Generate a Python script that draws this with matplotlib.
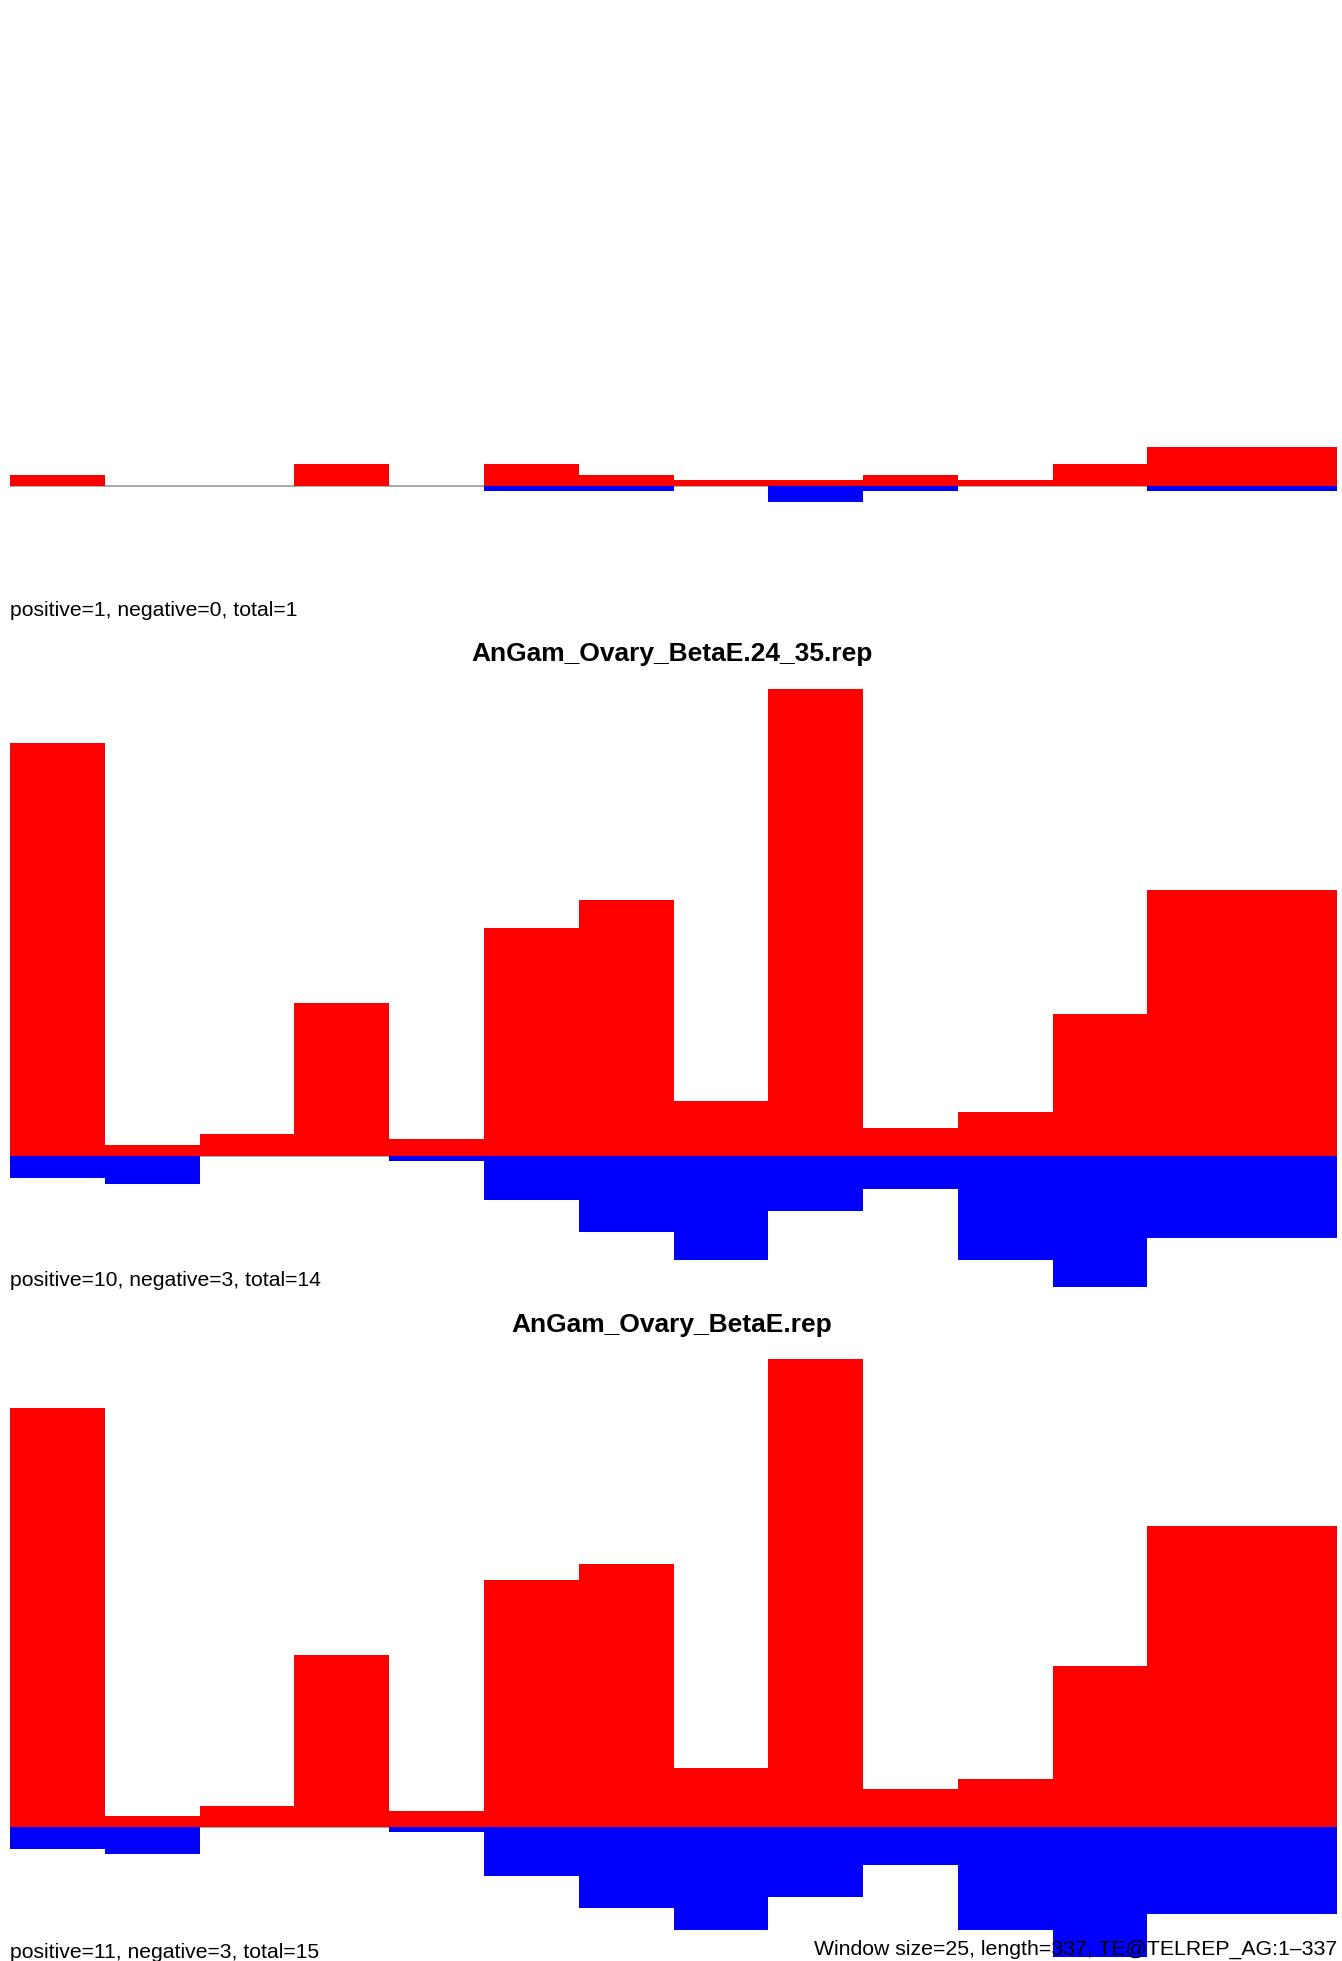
import matplotlib
matplotlib.use("Agg")
import matplotlib.pyplot as plt
import numpy as np

# window counts per 25-bp bin (13 full windows + the tail window)
bins = np.arange(14)

titles = ["", "AnGam_Ovary_BetaE.24_35.rep", "AnGam_Ovary_BetaE.rep"]
stats = ["positive=1, negative=0, total=1",
         "positive=10, negative=3, total=14",
         "positive=11, negative=3, total=15"]

pos1 = [2, 0, 0, 4, 0, 4, 2, 1, 1, 2, 1, 4, 7, 7]
neg1 = [0, 0, 0, 0, 0, 1, 1, 0, 3, 1, 0, 0, 1, 1]

pos2 = [75.8, 2.0, 4.0, 28.1, 3.1, 41.8, 47.0, 10.1, 85.7, 5.1, 8.1, 26.1, 48.8, 48.8]
neg2 = [4.0, 5.1, 0, 0, 1.0, 8.0, 13.9, 19.1, 10.1, 6.1, 19.1, 24.0, 15.0, 15.0]

pos3 = [76.9, 2.0, 3.9, 31.6, 2.9, 45.3, 48.3, 10.8, 85.9, 7.0, 8.8, 29.5, 55.2, 55.2]
neg3 = [4.0, 5.0, 0, 0, 1.0, 9.0, 14.9, 18.9, 12.8, 7.0, 18.9, 23.9, 16.0, 16.0]

footer = "Window size=25, length=337, TE@TELREP_AG:1\u2013337"

W, H = 1342, 1961
plt.rcParams['font.family'] = ['Liberation Sans', 'DejaVu Sans']
fig = plt.figure(figsize=(W / 100, H / 100), dpi=100)

k = 5.45          # pixels per unit
top, bot = 86, 25
baselines = [485.5, 1156, 1827]
panels = [(pos1, neg1), (pos2, neg2), (pos3, neg3)]

for i, (pos, neg) in enumerate(panels):
    b = baselines[i]
    ax = fig.add_axes([10 / W, 1 - (b + bot * k) / H, 1327 / W, (top + bot) * k / H])
    ax.axhline(0, color="#999999", lw=1.2, zorder=1)
    ax.bar(bins, pos, width=1, align="edge", color="#ff0000", lw=0, zorder=2)
    ax.bar(bins, -np.array(neg), width=1, align="edge", color="#0000ff", lw=0, zorder=2)
    ax.set_xlim(0, 14)
    ax.set_ylim(-bot, top)
    ax.axis("off")
    if titles[i]:
        fig.text(672 / W, 1 - (b - 502) / H, titles[i], ha="center", va="center",
                 fontsize=19, fontweight="bold")
    fig.text(10 / W, 1 - (b + 125) / H, stats[i], ha="left", va="center", fontsize=15.2)

fig.text(1337 / W, 1 - 1949 / H, footer, ha="right", va="center", fontsize=15.3, zorder=10)

fig.savefig("out.png", dpi=100)
